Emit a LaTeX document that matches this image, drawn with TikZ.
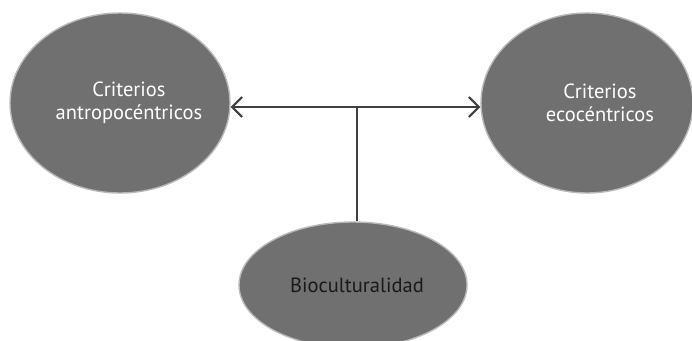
\documentclass[tikz,border=0pt]{standalone}
\usepackage{fontspec}
\setmainfont{PT Sans}
\usetikzlibrary{shapes.geometric,arrows.meta}
\definecolor{blobfill}{HTML}{6F706F}
\definecolor{blobrim}{HTML}{B8BAB8}
\definecolor{linkgray}{HTML}{404040}
\tikzset{
  blob/.style={ellipse, fill=blobfill, draw=blobrim, line width=1.4pt, inner sep=0pt},
  caption/.style={align=center, inner sep=0pt, font=\fontsize{20.5}{23}\selectfont},
  link/.style={draw=linkgray, line width=2pt},
  tip/.style={-{Straight Barb[length=10pt,width=20pt,line width=2pt]}}
}
\begin{document}
\begin{tikzpicture}[x=1pt,y=-1pt]
\useasboundingbox (0,0) rectangle (692,340);
% the three ellipses, each with its caption set a little right of centre
\node[blob, minimum width=220pt, minimum height=180pt,
  label={[caption, text=white, xshift=9pt]center:Criterios\\antropocéntricos}] (L) at (120,103) {};
\node[blob, minimum width=212pt, minimum height=180pt,
  label={[caption, text=white, xshift=13pt]center:Criterios\\ecocéntricos}] (R) at (587,103) {};
\node[blob, minimum width=228pt, minimum height=126pt,
  label={[caption, text=black!90, xshift=4pt]center:Bioculturalidad}] (B) at (353,285) {};
% junction where the stem meets the double arrow
\coordinate (J) at (357,107);
\draw[link] (B.north -| J) -- (J);
\draw[link, tip] (J) -- (L.east |- J);
\draw[link, tip] (J) -- (R.west |- J);
\end{tikzpicture}
\end{document}
